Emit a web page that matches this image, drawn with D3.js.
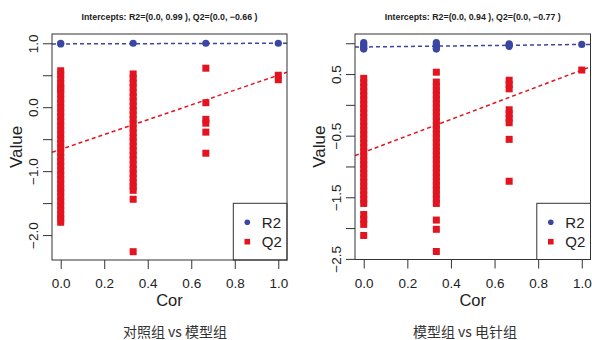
<!DOCTYPE html>
<html>
<head>
<meta charset="utf-8">
<script src="https://cdn.jsdelivr.net/npm/d3@7"></script>
<style>
  html, body { margin: 0; padding: 0; background: #fff; }
  svg { display: block; font-family: "Liberation Sans", Arial, sans-serif; }
</style>
</head>
<body>
<div id="plot"></div>
<script>
// permutation levels (x positions of the columns)
const corLevels = [0, 0.333, 0.667, 1.0];
const xTicks = [0, 0.2, 0.4, 0.6, 0.8, 1.0];

// left panel: 对照组 vs 模型组
const ctrlTitle = "Intercepts: R2=(0.0, 0.99 ), Q2=(0.0, \u22120.66 )";
const ctrlCaption = "对照组 vs 模型组";
const ctrlR2 = [[1.0, 0.99], [1.0], [1.0], [1.0]];
const ctrlQ2 = [
  [0.57, 0.51, 0.44, 0.37, 0.31, 0.27, 0.20, 0.13, 0.06, -0.01, -0.08, -0.15, -0.22, -0.29, -0.36, -0.43, -0.50, -0.57,
   -0.64, -0.71, -0.78, -0.85, -0.92, -0.99, -1.06, -1.13, -1.20, -1.27, -1.33, -1.40, -1.47, -1.54, -1.61, -1.68, -1.74, -1.80],
  [0.52, 0.45, 0.38, 0.31, 0.23, 0.16, 0.09, 0.02, -0.05, -0.12, -0.19, -0.26, -0.33, -0.40, -0.47, -0.54, -0.61, -0.68,
   -0.75, -0.82, -0.90, -0.97, -1.04, -1.11, -1.18, -1.24, -1.30, -1.44, -2.26],
  [0.61, 0.07, -0.19, -0.25, -0.39, -0.72],
  [0.50, 0.43]
];
const ctrlR2Line = [0.99, 1.0];   // value at Cor=0 and Cor=1
const ctrlQ2Line = [-0.66, 0.50];
const ctrlYTicks = [-2, -1.5, -1, -0.5, 0, 0.5, 1];
const ctrlYLabels = [-2, -1, 0, 1];

// right panel: 模型组 vs 电针组
const eaTitle = "Intercepts: R2=(0.0, 0.94 ), Q2=(0.0, \u22120.77 )";
const eaCaption = "模型组 vs 电针组";
const eaR2 = [[1.01, 0.98, 0.95, 0.92, 0.905], [1.01, 0.98, 0.95, 0.92, 0.905], [0.99, 0.97, 0.95], [0.98]];
const eaQ2 = [
  [0.43, 0.36, 0.29, 0.22, 0.15, 0.08, 0.01, -0.06, -0.13, -0.20, -0.27, -0.34, -0.41, -0.48, -0.55, -0.62, -0.69,
   -0.76, -0.83, -0.90, -0.97, -1.04, -1.11, -1.18, -1.25, -1.32, -1.39, -1.46, -1.53, -1.60, -1.78, -1.86, -1.94, -2.12],
  [0.53, 0.37, 0.30, 0.23, 0.16, 0.09, 0.02, -0.05, -0.12, -0.19, -0.26, -0.33, -0.40, -0.47, -0.54, -0.61, -0.68,
   -0.75, -0.82, -0.89, -0.96, -1.03, -1.10, -1.17, -1.24, -1.31, -1.38, -1.45, -1.53, -1.60, -1.87, -2.02, -2.38],
  [0.40, 0.33, 0.26, -0.08, -0.15, -0.22, -0.29, -0.56, -1.24],
  [0.565]
];
const eaR2Line = [0.94, 0.98];
const eaQ2Line = [-0.77, 0.565];
const eaYTicks = [-2.5, -2, -1.5, -1, -0.5, 0, 0.5, 1];
const eaYLabels = [-2.5, -1.5, -0.5, 0.5];

const blue = "#3b46a2";
const red = "#e3141f";
const ink = "#333";

var svg = d3.select("#plot")
  .append("svg")
  .attr("width", 592)
  .attr("height", 340);

const panels = [
  {id: "ctrl", box: {left: 52, right: 287, top: 34, bottom: 260}, yDomain: [-2.39, 1.145],
   title: ctrlTitle, caption: ctrlCaption, captionX: 175, r2: ctrlR2, q2: ctrlQ2,
   r2Line: ctrlR2Line, q2Line: ctrlQ2Line, yTicks: ctrlYTicks, yLabels: ctrlYLabels},
  {id: "ea", box: {left: 355, right: 590.5, top: 34, bottom: 259.5}, yDomain: [-2.51, 1.15],
   title: eaTitle, caption: eaCaption, captionX: 465, r2: eaR2, q2: eaQ2,
   r2Line: eaR2Line, q2Line: eaQ2Line, yTicks: eaYTicks, yLabels: eaYLabels}
];

const fmt = d3.format(".1f");

panels.forEach(function(p) {
  var b = p.box;
  var x = d3.scaleLinear().domain([-0.04, 1.04]).range([b.left, b.right]);
  var y = d3.scaleLinear().domain(p.yDomain).range([b.bottom, b.top]);
  var g = svg.append("g").attr("id", p.id);

  // clip for the ablines
  g.append("clipPath").attr("id", "clip-" + p.id)
    .append("rect")
    .attr("x", b.left).attr("y", b.top)
    .attr("width", b.right - b.left).attr("height", b.bottom - b.top);

  // title
  g.append("text")
    .attr("x", (b.left + b.right) / 2)
    .attr("y", 19.5)
    .attr("text-anchor", "middle")
    .attr("font-size", 9)
    .attr("font-weight", "bold")
    .attr("fill", "#222")
    .attr("textLength", 176)
    .attr("lengthAdjust", "spacingAndGlyphs")
    .text(p.title);

  // x axis
  var xa = g.append("g")
    .attr("transform", "translate(0," + b.bottom + ")")
    .call(d3.axisBottom(x).tickValues(xTicks).tickSize(9).tickFormat(fmt));
  xa.select(".domain").remove();
  xa.selectAll("line").attr("stroke", ink);
  xa.selectAll("text")
    .attr("y", 28).attr("dy", 0)
    .attr("font-size", 13.5)
    .attr("font-family", "Liberation Sans, Arial, sans-serif")
    .attr("fill", "#222");

  // y axis, labels rotated as in base R
  var ya = g.append("g")
    .attr("transform", "translate(" + b.left + ",0)")
    .call(d3.axisLeft(y).tickValues(p.yTicks).tickSize(9)
      .tickFormat(function(d) { return p.yLabels.indexOf(d) >= 0 ? fmt(d) : ""; }));
  ya.select(".domain").remove();
  ya.selectAll("line").attr("stroke", ink);
  ya.selectAll("text")
    .attr("x", 0).attr("dy", 0)
    .attr("text-anchor", "middle")
    .attr("transform", "translate(-13.8,0) rotate(-90)")
    .attr("font-size", 13.5)
    .attr("font-family", "Liberation Sans, Arial, sans-serif")
    .attr("fill", "#222");

  // axis titles
  g.append("text")
    .attr("x", (b.left + b.right) / 2)
    .attr("y", 306)
    .attr("text-anchor", "middle")
    .attr("font-size", 16.5)
    .attr("fill", "#222")
    .text("Cor");

  g.append("text")
    .attr("transform", "translate(" + (b.left - 30.5) + "," + ((b.top + b.bottom) / 2) + ") rotate(-90)")
    .attr("text-anchor", "middle")
    .attr("font-size", 17)
    .attr("fill", "#222")
    .text("Value");

  // Q2 squares
  var q2pts = [];
  p.q2.forEach(function(col, i) { col.forEach(function(v) { q2pts.push([corLevels[i], v]); }); });
  g.append("g").selectAll("rect")
    .data(q2pts)
    .enter()
    .append("rect")
      .attr("x", function(d) { return x(d[0]) - 3.5; })
      .attr("y", function(d) { return y(d[1]) - 3.5; })
      .attr("width", 7)
      .attr("height", 7)
      .attr("fill", red);

  // R2 dots
  var r2pts = [];
  p.r2.forEach(function(col, i) { col.forEach(function(v) { r2pts.push([corLevels[i], v]); }); });
  g.append("g").selectAll("circle")
    .data(r2pts)
    .enter()
    .append("circle")
      .attr("cx", function(d) { return x(d[0]); })
      .attr("cy", function(d) { return y(d[1]); })
      .attr("r", 3.6)
      .attr("fill", blue);

  // regression lines through intercept, across the whole box
  var lines = [[p.r2Line, blue], [p.q2Line, red]];
  lines.forEach(function(l) {
    var a = l[0][0], s = l[0][1] - l[0][0];
    g.append("line")
      .attr("clip-path", "url(#clip-" + p.id + ")")
      .attr("x1", x(-0.04)).attr("y1", y(a + s * -0.04))
      .attr("x2", x(1.04)).attr("y2", y(a + s * 1.04))
      .attr("stroke", l[1])
      .attr("stroke-width", 1.5)
      .attr("stroke-dasharray", "4,3");
  });

  // legend (bottom right)
  var lg = g.append("g");
  var lx = b.right - 53.7, ly = 203.3;
  lg.append("rect")
    .attr("x", lx).attr("y", ly)
    .attr("width", b.right - lx).attr("height", b.bottom - ly)
    .attr("fill", "#fff")
    .attr("stroke", ink);
  lg.append("circle").attr("cx", lx + 14).attr("cy", 222.3).attr("r", 2.8).attr("fill", blue);
  lg.append("rect").attr("x", lx + 11.2).attr("y", 241.7 - 2.8).attr("width", 5.6).attr("height", 5.6).attr("fill", red);
  [["R2", 222.3], ["Q2", 241.7]].forEach(function(t) {
    lg.append("text")
      .attr("x", lx + 28.5).attr("y", t[1]).attr("dy", "0.36em")
      .attr("font-size", 15)
      .attr("fill", "#222")
      .text(t[0]);
  });

  // plot box
  g.append("rect")
    .attr("x", b.left).attr("y", b.top)
    .attr("width", b.right - b.left).attr("height", b.bottom - b.top)
    .attr("fill", "none")
    .attr("stroke", ink);

  // caption under the panel
  g.append("text")
    .attr("x", p.captionX)
    .attr("y", 336.5)
    .attr("text-anchor", "middle")
    .attr("font-size", 14)
    .attr("font-family", "Noto Sans CJK SC, sans-serif")
    .attr("fill", "#333")
    .text(p.caption);
});
</script>
</body>
</html>
